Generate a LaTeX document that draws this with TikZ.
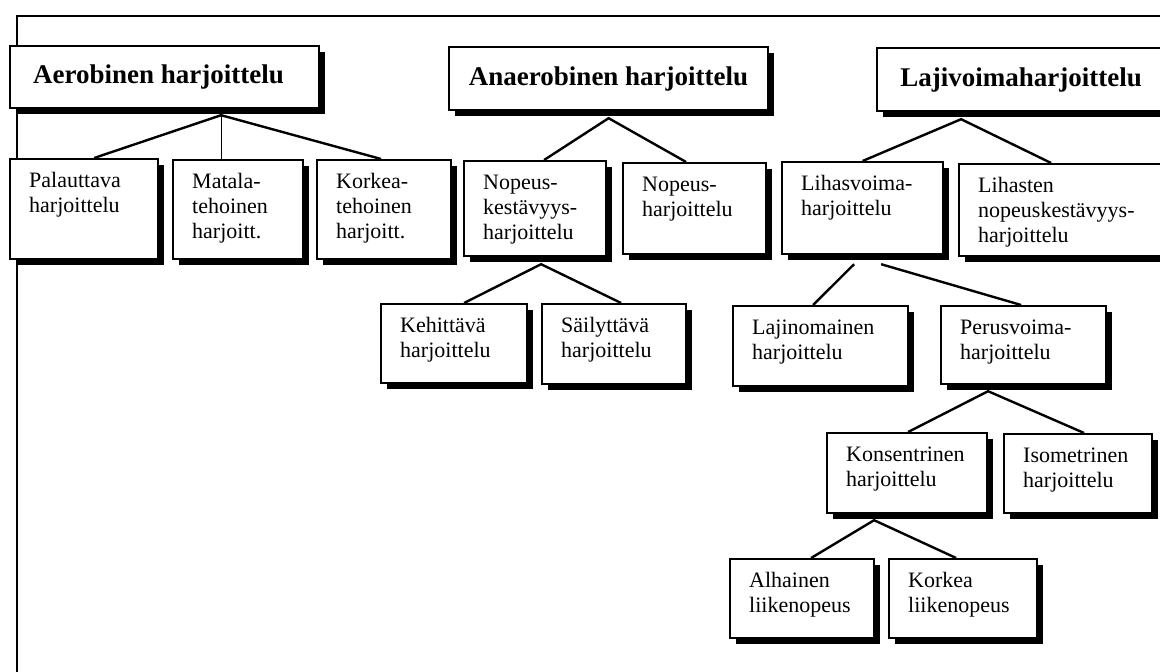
\documentclass[tikz,border=0pt]{standalone}
\usepackage{fontspec}
\setmainfont{Liberation Serif}
\usetikzlibrary{shadows}
\tikzset{
  box/.style={draw=black, line width=2.2pt, fill=white, anchor=north west, inner sep=0pt,
    drop shadow={shadow xshift=6pt, shadow yshift=-6pt, fill=black, opacity=1}},
  head/.style={box, font=\fontsize{27}{30}\selectfont\bfseries},
  txt/.style={anchor=north west, inner sep=0pt, align=left, font=\fontsize{22}{25}\selectfont},
  conn/.style={line width=2.4pt},
  thinconn/.style={line width=1pt},
  frame/.style={line width=2pt}
}
\newcommand\leaf[6]{%
  \node[box, minimum width=#4pt, minimum height=#5pt] (#1) at (#2,#3) {};
  \node[txt] (#1t) at ([xshift=20pt,yshift=-11.5pt]#1.north west) {\strut #6};
}
\begin{document}
\begin{tikzpicture}[x=1pt,y=-1pt]
\useasboundingbox (0,0) rectangle (1160,672);
\clip (0,0) rectangle (1160,672);
\fill[white] (0,0) rectangle (1160,672);
% frame
\draw[frame] (1160,16) -- (17,16) -- (17,672);
% headers
\node[head, minimum width=309pt, minimum height=62pt] (aer) at (9,45) {\hspace*{-12pt}Aerobinen harjoittelu};
\node[head, minimum width=319pt, minimum height=63pt] (ana) at (448,46) {Anaerobinen harjoittelu};
\node[head, minimum width=300pt, minimum height=63pt] (laj) at (876,47) {\hspace*{-12pt}Lajivoimaharjoittelu};
% level 2
\leaf{pal}{9}{158}{148}{100}{Palauttava\\harjoittelu}
\leaf{mat}{172}{159}{130}{99}{Matala-\\tehoinen\\harjoitt.}
\leaf{kor}{316}{159}{134}{99}{Korkea-\\tehoinen\\harjoitt.}
\leaf{nk}{463}{160}{142}{95}{Nopeus-\\kestävyys-\\harjoittelu}
\leaf{nop}{622}{162}{143}{91}{Nopeus-\\harjoittelu}
\leaf{lv}{781}{161}{161}{92}{Lihasvoima-\\harjoittelu}
\leaf{ln}{958}{163}{220}{92}{Lihasten\\nopeuskestävyys-\\harjoittelu}
% level 3
\leaf{keh}{380}{303}{146}{79}{Kehittävä\\harjoittelu}
\leaf{sai}{541}{303}{144}{80}{Säilyttävä\\harjoittelu}
\leaf{lao}{732}{305}{175}{80}{Lajinomainen\\harjoittelu}
\leaf{per}{940}{305}{165}{78}{Perusvoima-\\harjoittelu}
% level 4
\leaf{kon}{826}{432}{160}{80}{Konsentrinen\\harjoittelu}
\leaf{iso}{1003}{433}{148}{79}{Isometrinen\\harjoittelu}
% level 5
\leaf{alh}{729}{558}{144}{79}{Alhainen\\liikenopeus}
\leaf{kork}{888}{558}{148}{79}{Korkea\\liikenopeus}
% connectors
\draw[conn] ([xshift=10pt]pal.north) -- ([xshift=56.5pt,yshift=-6pt]aer.south) -- ([xshift=-3pt]kor.north);
\draw[thinconn] ([xshift=56.5pt,yshift=-6pt]aer.south) -- ([xshift=-17pt]mat.north);
\draw[conn] ([xshift=9pt]nk.north) -- ([yshift=-7pt]ana.south) -- ([xshift=-8.5pt]nop.north);
\draw[conn] (lv.north) -- ([xshift=-66pt,yshift=-7pt]laj.south) -- ([xshift=-18pt]ln.north);
\draw[conn] ([xshift=10pt]keh.north) -- ([xshift=6pt,yshift=-7pt]nk.south) -- ([xshift=7pt]sai.north);
\draw[conn] ([xshift=-7.5pt]lao.north) -- ([xshift=-8.5pt,yshift=-9pt]lv.south);
\draw[conn] ([xshift=18.5pt,yshift=-9pt]lv.south) -- ([xshift=-2.5pt]per.north);
\draw[conn] ([xshift=1pt]kon.north) -- ([xshift=-35.5pt,yshift=-6pt]per.south) -- ([xshift=6pt]iso.north);
\draw[conn] ([xshift=9pt]alh.north) -- ([xshift=-33pt,yshift=-6pt]kon.south) -- ([xshift=-7pt]kork.north);
\end{tikzpicture}
\end{document}
